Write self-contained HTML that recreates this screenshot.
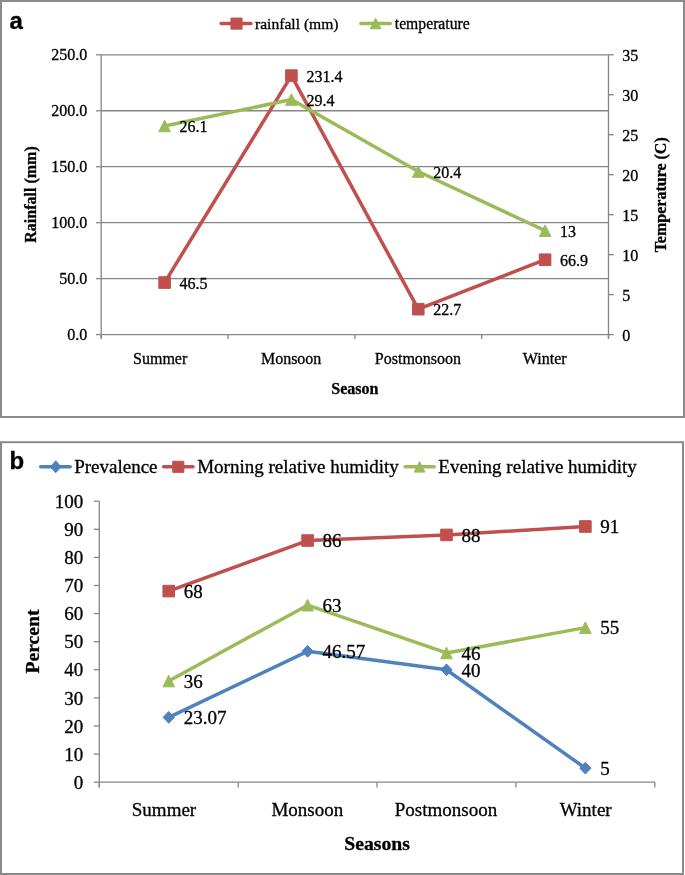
<!DOCTYPE html>
<html><head><meta charset="utf-8"><style>
html,body{margin:0;padding:0;background:#fff;}
body{width:685px;height:875px;overflow:hidden;}
svg{display:block;font-family:"Liberation Serif",serif;will-change:transform;}
</style></head><body>
<svg width="685" height="875" viewBox="0 0 685 875" fill="#000">
<style>text{stroke:#000;stroke-width:0.3px;}</style>
<rect width="685" height="875" fill="#fff"/>
<rect x="1" y="1" width="683" height="416" fill="none" stroke="#8a8a8a" stroke-width="2"/>
<text x="9.4" y="29.2" style="font-family:'Liberation Sans',sans-serif" font-weight="bold" font-size="24">a</text>
<line x1="101.2" y1="278.64" x2="608.5" y2="278.64" stroke="#868686" stroke-width="1.3"/>
<line x1="101.2" y1="222.68" x2="608.5" y2="222.68" stroke="#868686" stroke-width="1.3"/>
<line x1="101.2" y1="166.72" x2="608.5" y2="166.72" stroke="#868686" stroke-width="1.3"/>
<line x1="101.2" y1="110.76" x2="608.5" y2="110.76" stroke="#868686" stroke-width="1.3"/>
<line x1="101.2" y1="54.80" x2="608.5" y2="54.80" stroke="#868686" stroke-width="1.3"/>
<line x1="101.2" y1="54.8" x2="101.2" y2="338.90000000000003" stroke="#868686" stroke-width="1.3"/>
<line x1="96.0" y1="334.60" x2="101.2" y2="334.60" stroke="#868686" stroke-width="1.3"/>
<text x="87.20" y="340.20" font-size="16" text-anchor="end">0.0</text>
<line x1="96.0" y1="278.64" x2="101.2" y2="278.64" stroke="#868686" stroke-width="1.3"/>
<text x="87.20" y="284.24" font-size="16" text-anchor="end">50.0</text>
<line x1="96.0" y1="222.68" x2="101.2" y2="222.68" stroke="#868686" stroke-width="1.3"/>
<text x="87.20" y="228.28" font-size="16" text-anchor="end">100.0</text>
<line x1="96.0" y1="166.72" x2="101.2" y2="166.72" stroke="#868686" stroke-width="1.3"/>
<text x="87.20" y="172.32" font-size="16" text-anchor="end">150.0</text>
<line x1="96.0" y1="110.76" x2="101.2" y2="110.76" stroke="#868686" stroke-width="1.3"/>
<text x="87.20" y="116.36" font-size="16" text-anchor="end">200.0</text>
<line x1="96.0" y1="54.80" x2="101.2" y2="54.80" stroke="#868686" stroke-width="1.3"/>
<text x="87.20" y="60.40" font-size="16" text-anchor="end">250.0</text>
<line x1="101.2" y1="334.6" x2="608.5" y2="334.6" stroke="#868686" stroke-width="1.3"/>
<line x1="101.20" y1="334.6" x2="101.20" y2="338.90000000000003" stroke="#868686" stroke-width="1.3"/>
<line x1="228.03" y1="334.6" x2="228.03" y2="338.90000000000003" stroke="#868686" stroke-width="1.3"/>
<line x1="354.85" y1="334.6" x2="354.85" y2="338.90000000000003" stroke="#868686" stroke-width="1.3"/>
<line x1="481.68" y1="334.6" x2="481.68" y2="338.90000000000003" stroke="#868686" stroke-width="1.3"/>
<line x1="608.50" y1="334.6" x2="608.50" y2="338.90000000000003" stroke="#868686" stroke-width="1.3"/>
<line x1="608.5" y1="54.8" x2="608.5" y2="338.90000000000003" stroke="#868686" stroke-width="1.3"/>
<line x1="608.5" y1="334.60" x2="613.8" y2="334.60" stroke="#868686" stroke-width="1.3"/>
<text x="622.30" y="340.50" font-size="16" text-anchor="start">0</text>
<line x1="608.5" y1="294.63" x2="613.8" y2="294.63" stroke="#868686" stroke-width="1.3"/>
<text x="622.30" y="300.53" font-size="16" text-anchor="start">5</text>
<line x1="608.5" y1="254.66" x2="613.8" y2="254.66" stroke="#868686" stroke-width="1.3"/>
<text x="622.30" y="260.56" font-size="16" text-anchor="start">10</text>
<line x1="608.5" y1="214.69" x2="613.8" y2="214.69" stroke="#868686" stroke-width="1.3"/>
<text x="622.30" y="220.59" font-size="16" text-anchor="start">15</text>
<line x1="608.5" y1="174.71" x2="613.8" y2="174.71" stroke="#868686" stroke-width="1.3"/>
<text x="622.30" y="180.61" font-size="16" text-anchor="start">20</text>
<line x1="608.5" y1="134.74" x2="613.8" y2="134.74" stroke="#868686" stroke-width="1.3"/>
<text x="622.30" y="140.64" font-size="16" text-anchor="start">25</text>
<line x1="608.5" y1="94.77" x2="613.8" y2="94.77" stroke="#868686" stroke-width="1.3"/>
<text x="622.30" y="100.67" font-size="16" text-anchor="start">30</text>
<line x1="608.5" y1="54.80" x2="613.8" y2="54.80" stroke="#868686" stroke-width="1.3"/>
<text x="622.30" y="60.70" font-size="16" text-anchor="start">35</text>
<text x="160.20" y="363.80" font-size="16" text-anchor="middle">Summer</text>
<text x="291.14" y="363.80" font-size="16" text-anchor="middle">Monsoon</text>
<text x="417.96" y="363.80" font-size="16" text-anchor="middle">Postmonsoon</text>
<text x="544.69" y="363.80" font-size="16" text-anchor="middle">Winter</text>
<text x="354.85" y="393.90" font-size="16" text-anchor="middle" font-weight="bold">Season</text>
<text x="0" y="0" font-size="16" font-weight="bold" text-anchor="middle" transform="translate(35.8,194.5) rotate(-90)">Rainfall (mm)</text>
<text x="0" y="0" font-size="16" font-weight="bold" text-anchor="middle" transform="translate(666.4,194.8) rotate(-90)">Temperature (C)</text>
<polyline points="164.61,282.56 291.44,75.62 418.26,309.19 545.09,259.73" fill="none" stroke="#c0504d" stroke-width="3.5" stroke-linejoin="round" stroke-linecap="round"/>
<rect x="158.81" y="276.76" width="11.60" height="11.60" fill="#c0504d" stroke="#c0504d" stroke-width="1" stroke-linejoin="round"/>
<rect x="285.64" y="69.82" width="11.60" height="11.60" fill="#c0504d" stroke="#c0504d" stroke-width="1" stroke-linejoin="round"/>
<rect x="412.46" y="303.39" width="11.60" height="11.60" fill="#c0504d" stroke="#c0504d" stroke-width="1" stroke-linejoin="round"/>
<rect x="539.29" y="253.93" width="11.60" height="11.60" fill="#c0504d" stroke="#c0504d" stroke-width="1" stroke-linejoin="round"/>
<polyline points="164.61,125.95 291.44,99.57 418.26,171.52 545.09,230.67" fill="none" stroke="#9bbb59" stroke-width="3.5" stroke-linejoin="round" stroke-linecap="round"/>
<polygon points="164.61,120.15 170.41,131.75 158.81,131.75" fill="#9bbb59" stroke="#9bbb59" stroke-width="1" stroke-linejoin="round"/>
<polygon points="291.44,93.77 297.24,105.37 285.64,105.37" fill="#9bbb59" stroke="#9bbb59" stroke-width="1" stroke-linejoin="round"/>
<polygon points="418.26,165.72 424.06,177.32 412.46,177.32" fill="#9bbb59" stroke="#9bbb59" stroke-width="1" stroke-linejoin="round"/>
<polygon points="545.09,224.87 550.89,236.47 539.29,236.47" fill="#9bbb59" stroke="#9bbb59" stroke-width="1" stroke-linejoin="round"/>
<text x="179.61" y="288.76" font-size="16" text-anchor="start">46.5</text>
<text x="306.44" y="81.82" font-size="16" text-anchor="start">231.4</text>
<text x="433.26" y="315.39" font-size="16" text-anchor="start">22.7</text>
<text x="560.09" y="265.93" font-size="16" text-anchor="start">66.9</text>
<text x="179.61" y="132.15" font-size="16" text-anchor="start">26.1</text>
<text x="306.44" y="105.77" font-size="16" text-anchor="start">29.4</text>
<text x="433.26" y="177.72" font-size="16" text-anchor="start">20.4</text>
<text x="560.09" y="236.87" font-size="16" text-anchor="start">13</text>
<line x1="221.2" y1="23.6" x2="250.9" y2="23.6" stroke="#c0504d" stroke-width="3.5" stroke-linecap="round"/>
<rect x="230.95" y="18.05" width="11.10" height="11.10" fill="#c0504d" stroke="#c0504d" stroke-width="1" stroke-linejoin="round"/>
<text x="255.00" y="28.90" font-size="15.6" text-anchor="start">rainfall (mm)</text>
<line x1="360.9" y1="23.4" x2="390.3" y2="23.4" stroke="#9bbb59" stroke-width="3.5" stroke-linecap="round"/>
<polygon points="375.60,18.20 380.90,28.80 370.30,28.80" fill="#9bbb59" stroke="#9bbb59" stroke-width="1" stroke-linejoin="round"/>
<text x="394.80" y="28.90" font-size="15.7" text-anchor="start">temperature</text>
<rect x="1" y="442.2" width="682" height="431.8" fill="none" stroke="#8a8a8a" stroke-width="2"/>
<text x="9.5" y="469" style="font-family:'Liberation Sans',sans-serif" font-weight="bold" font-size="24">b</text>
<line x1="99.3" y1="501.2" x2="99.3" y2="787.6" stroke="#868686" stroke-width="1.3"/>
<line x1="93.8" y1="782.20" x2="99.3" y2="782.20" stroke="#868686" stroke-width="1.3"/>
<text x="83.20" y="788.80" font-size="19" text-anchor="end">0</text>
<line x1="93.8" y1="754.10" x2="99.3" y2="754.10" stroke="#868686" stroke-width="1.3"/>
<text x="83.20" y="760.70" font-size="19" text-anchor="end">10</text>
<line x1="93.8" y1="726.00" x2="99.3" y2="726.00" stroke="#868686" stroke-width="1.3"/>
<text x="83.20" y="732.60" font-size="19" text-anchor="end">20</text>
<line x1="93.8" y1="697.90" x2="99.3" y2="697.90" stroke="#868686" stroke-width="1.3"/>
<text x="83.20" y="704.50" font-size="19" text-anchor="end">30</text>
<line x1="93.8" y1="669.80" x2="99.3" y2="669.80" stroke="#868686" stroke-width="1.3"/>
<text x="83.20" y="676.40" font-size="19" text-anchor="end">40</text>
<line x1="93.8" y1="641.70" x2="99.3" y2="641.70" stroke="#868686" stroke-width="1.3"/>
<text x="83.20" y="648.30" font-size="19" text-anchor="end">50</text>
<line x1="93.8" y1="613.60" x2="99.3" y2="613.60" stroke="#868686" stroke-width="1.3"/>
<text x="83.20" y="620.20" font-size="19" text-anchor="end">60</text>
<line x1="93.8" y1="585.50" x2="99.3" y2="585.50" stroke="#868686" stroke-width="1.3"/>
<text x="83.20" y="592.10" font-size="19" text-anchor="end">70</text>
<line x1="93.8" y1="557.40" x2="99.3" y2="557.40" stroke="#868686" stroke-width="1.3"/>
<text x="83.20" y="564.00" font-size="19" text-anchor="end">80</text>
<line x1="93.8" y1="529.30" x2="99.3" y2="529.30" stroke="#868686" stroke-width="1.3"/>
<text x="83.20" y="535.90" font-size="19" text-anchor="end">90</text>
<line x1="93.8" y1="501.20" x2="99.3" y2="501.20" stroke="#868686" stroke-width="1.3"/>
<text x="83.20" y="507.80" font-size="19" text-anchor="end">100</text>
<line x1="99.3" y1="782.2" x2="654.8" y2="782.2" stroke="#868686" stroke-width="1.3"/>
<line x1="99.30" y1="782.2" x2="99.30" y2="787.6" stroke="#868686" stroke-width="1.3"/>
<line x1="238.18" y1="782.2" x2="238.18" y2="787.6" stroke="#868686" stroke-width="1.3"/>
<line x1="377.05" y1="782.2" x2="377.05" y2="787.6" stroke="#868686" stroke-width="1.3"/>
<line x1="515.92" y1="782.2" x2="515.92" y2="787.6" stroke="#868686" stroke-width="1.3"/>
<line x1="654.80" y1="782.2" x2="654.80" y2="787.6" stroke="#868686" stroke-width="1.3"/>
<text x="164.00" y="816.40" font-size="19" text-anchor="middle">Summer</text>
<text x="307.31" y="816.40" font-size="19" text-anchor="middle">Monsoon</text>
<text x="445.99" y="816.40" font-size="19" text-anchor="middle">Postmonsoon</text>
<text x="585.66" y="816.40" font-size="19" text-anchor="middle">Winter</text>
<text x="377.05" y="849.90" font-size="19.7" text-anchor="middle" font-weight="bold">Seasons</text>
<text x="0" y="0" font-size="19.6" font-weight="bold" text-anchor="middle" transform="translate(39.2,641.5) rotate(-90)">Percent</text>
<polyline points="168.74,717.37 307.61,651.34 446.49,669.80 585.36,768.15" fill="none" stroke="#4f81bd" stroke-width="3.5" stroke-linejoin="round" stroke-linecap="round"/>
<polygon points="168.74,711.47 174.34,717.37 168.74,723.27 163.14,717.37" fill="#4f81bd" stroke="#4f81bd" stroke-width="1" stroke-linejoin="round"/>
<polygon points="307.61,645.44 313.21,651.34 307.61,657.24 302.01,651.34" fill="#4f81bd" stroke="#4f81bd" stroke-width="1" stroke-linejoin="round"/>
<polygon points="446.49,663.90 452.09,669.80 446.49,675.70 440.89,669.80" fill="#4f81bd" stroke="#4f81bd" stroke-width="1" stroke-linejoin="round"/>
<polygon points="585.36,762.25 590.96,768.15 585.36,774.05 579.76,768.15" fill="#4f81bd" stroke="#4f81bd" stroke-width="1" stroke-linejoin="round"/>
<polyline points="168.74,591.12 307.61,540.54 446.49,534.92 585.36,526.49" fill="none" stroke="#c0504d" stroke-width="3.5" stroke-linejoin="round" stroke-linecap="round"/>
<rect x="162.94" y="585.32" width="11.60" height="11.60" fill="#c0504d" stroke="#c0504d" stroke-width="1" stroke-linejoin="round"/>
<rect x="301.81" y="534.74" width="11.60" height="11.60" fill="#c0504d" stroke="#c0504d" stroke-width="1" stroke-linejoin="round"/>
<rect x="440.69" y="529.12" width="11.60" height="11.60" fill="#c0504d" stroke="#c0504d" stroke-width="1" stroke-linejoin="round"/>
<rect x="579.56" y="520.69" width="11.60" height="11.60" fill="#c0504d" stroke="#c0504d" stroke-width="1" stroke-linejoin="round"/>
<polyline points="168.74,681.04 307.61,605.17 446.49,652.94 585.36,627.65" fill="none" stroke="#9bbb59" stroke-width="3.5" stroke-linejoin="round" stroke-linecap="round"/>
<polygon points="168.74,675.24 174.54,686.84 162.94,686.84" fill="#9bbb59" stroke="#9bbb59" stroke-width="1" stroke-linejoin="round"/>
<polygon points="307.61,599.37 313.41,610.97 301.81,610.97" fill="#9bbb59" stroke="#9bbb59" stroke-width="1" stroke-linejoin="round"/>
<polygon points="446.49,647.14 452.29,658.74 440.69,658.74" fill="#9bbb59" stroke="#9bbb59" stroke-width="1" stroke-linejoin="round"/>
<polygon points="585.36,621.85 591.16,633.45 579.56,633.45" fill="#9bbb59" stroke="#9bbb59" stroke-width="1" stroke-linejoin="round"/>
<text x="183.74" y="597.82" font-size="19" text-anchor="start">68</text>
<text x="322.61" y="547.24" font-size="19" text-anchor="start">86</text>
<text x="461.49" y="541.62" font-size="19" text-anchor="start">88</text>
<text x="600.36" y="533.19" font-size="19" text-anchor="start">91</text>
<text x="183.74" y="687.74" font-size="19" text-anchor="start">36</text>
<text x="322.61" y="611.87" font-size="19" text-anchor="start">63</text>
<text x="461.49" y="659.64" font-size="19" text-anchor="start">46</text>
<text x="600.36" y="634.35" font-size="19" text-anchor="start">55</text>
<text x="183.74" y="724.07" font-size="19" text-anchor="start">23.07</text>
<text x="322.61" y="658.04" font-size="19" text-anchor="start">46.57</text>
<text x="461.49" y="676.50" font-size="19" text-anchor="start">40</text>
<text x="600.36" y="774.85" font-size="19" text-anchor="start">5</text>
<line x1="40.7" y1="466.8" x2="70.2" y2="466.8" stroke="#4f81bd" stroke-width="3.5" stroke-linecap="round"/>
<polygon points="55.70,460.80 60.95,466.80 55.70,472.80 50.45,466.80" fill="#4f81bd" stroke="#4f81bd" stroke-width="1" stroke-linejoin="round"/>
<text x="74.20" y="473.40" font-size="19" text-anchor="start">Prevalence</text>
<line x1="163.6" y1="466.8" x2="193" y2="466.8" stroke="#c0504d" stroke-width="3.5" stroke-linecap="round"/>
<rect x="172.75" y="461.25" width="11.10" height="11.10" fill="#c0504d" stroke="#c0504d" stroke-width="1" stroke-linejoin="round"/>
<text x="197.20" y="473.40" font-size="19" text-anchor="start">Morning relative humidity</text>
<line x1="405.1" y1="466.8" x2="434.2" y2="466.8" stroke="#9bbb59" stroke-width="3.5" stroke-linecap="round"/>
<polygon points="419.60,461.50 424.90,472.10 414.30,472.10" fill="#9bbb59" stroke="#9bbb59" stroke-width="1" stroke-linejoin="round"/>
<text x="438.30" y="473.40" font-size="19" text-anchor="start">Evening relative humidity</text>
</svg>
</body></html>
